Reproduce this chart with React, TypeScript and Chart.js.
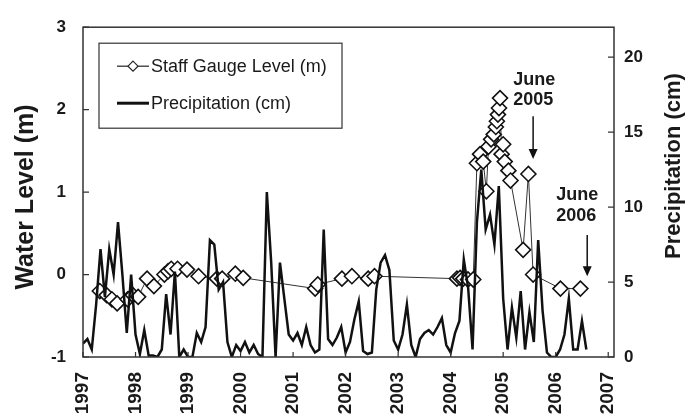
import React, { useEffect, useRef } from 'react';
import { Chart, registerables } from 'chart.js';

Chart.register(...registerables);

// ---- Data ----
const xTickYears = [1997, 1998, 1999, 2000, 2001, 2002, 2003, 2004, 2005, 2006, 2007];
const leftTicks = [-1, 0, 1, 2, 3];
const rightTicks = [0, 5, 10, 15, 20];

// Staff gauge level (m): decimal year, level
const gaugeYears = [
  1997.32, 1997.45, 1997.55, 1997.65, 1997.85, 1997.95, 1998.05, 1998.22, 1998.35, 1998.55,
  1998.62, 1998.68, 1998.80, 1998.98, 1999.20, 1999.55, 1999.65, 1999.90, 2000.05, 2001.42,
  2001.47, 2001.93, 2002.12, 2002.43, 2002.55, 2004.12, 2004.18, 2004.24, 2004.33, 2004.43,
  2004.50, 2004.56, 2004.62, 2004.68, 2004.72, 2004.77, 2004.82, 2004.86, 2004.88, 2004.90,
  2004.92, 2004.94, 2004.97, 2005.00, 2005.03, 2005.10, 2005.14, 2005.38, 2005.48, 2005.57,
  2006.09, 2006.47,
];
const gaugeLevels = [
  -0.20, -0.25, -0.30, -0.35, -0.30, -0.25, -0.27, -0.05, -0.14, 0.00,
  0.04, 0.07, 0.07, 0.06, -0.02, -0.05, -0.05, 0.01, -0.04, -0.17,
  -0.12, -0.05, -0.02, -0.05, -0.02, -0.05, -0.04, -0.05, -0.06, -0.06,
  1.35, 1.46, 1.37, 1.01, 1.55, 1.64, 1.70, 1.79, 1.86, 1.94,
  2.02, 2.14, 1.46, 1.58, 1.37, 1.26, 1.14, 0.30, 1.22, 0.00,
  -0.17, -0.17,
];

// Monthly precipitation (cm), starting January 1997
const precipStartYear = 1997;
const precipMonthly = [
  // 1997
  0.9, 1.2, 0.5, 3.5, 7.2, 4.0, 7.2, 5.5, 9.0, 5.5, 1.6, 5.5,
  // 1998
  1.5, 0.2, 1.8, 0.1, 0.1, 0.0, 0.5, 4.2, 1.5, 5.7, 0.0, 0.5,
  // 1999
  0.0, 0.0, 1.6, 1.0, 2.0, 7.8, 7.5, 4.5, 5.0, 1.0, 0.0, 0.8,
  // 2000
  0.4, 1.0, 0.3, 0.8, 0.2, 0.0, 11.0, 6.3, 0.0, 6.3, 3.9, 1.5,
  // 2001
  1.1, 1.6, 0.8, 2.0, 0.8, 0.3, 0.5, 8.5, 1.2, 0.8, 1.3, 2.0,
  // 2002
  0.3, 1.0, 2.5, 3.7, 0.4, 0.2, 0.3, 4.5, 6.3, 6.8, 5.8, 1.1,
  // 2003
  0.5, 1.5, 3.5, 0.8, 0.0, 1.2, 1.6, 1.8, 1.5, 2.0, 2.6, 0.8,
  // 2004
  0.3, 1.6, 2.4, 6.5, 4.6, 0.5, 9.0, 12.5, 8.5, 9.5, 7.5, 11.4,
  // 2005
  3.9, 0.5, 3.3, 1.3, 4.4, 0.5, 3.0, 1.0, 7.8, 3.1, 0.3, 0.0,
  // 2006
  0.0, 0.5, 1.5, 3.9, 0.5, 0.5, 2.4, 0.5,
];

const annotations = [
  { lines: ['June', '2005'], textYear: 2005.19, textLevels: [2.36, 2.12], arrowYear: 2005.57, arrowFrom: 1.92, arrowTo: 1.40 },
  { lines: ['June', '2006'], textYear: 2006.01, textLevels: [0.96, 0.71], arrowYear: 2006.6, arrowFrom: 0.48, arrowTo: -0.02 },
];

const FONT = '"Liberation Sans", Arial, Helvetica, sans-serif';
const INK = '#1a1a1a';

const overlayPlugin = {
  id: 'overlay',
  afterDraw(chart: any) {
    const { ctx, chartArea: a, scales } = chart;
    const sx = scales.x, sy = scales.y, sy2 = scales.y2;
    ctx.save();
    // frame
    ctx.strokeStyle = '#333';
    ctx.lineWidth = 1.5;
    ctx.strokeRect(a.left, a.top, a.right - a.left, a.bottom - a.top);
    // inward ticks
    ctx.lineWidth = 1.2;
    ctx.beginPath();
    leftTicks.forEach((v) => {
      const y = sy.getPixelForValue(v);
      ctx.moveTo(a.left, y); ctx.lineTo(a.left + 6, y);
    });
    rightTicks.forEach((v) => {
      const y = sy2.getPixelForValue(v);
      ctx.moveTo(a.right, y); ctx.lineTo(a.right - 6, y);
    });
    xTickYears.forEach((v) => {
      const x = sx.getPixelForValue(v);
      ctx.moveTo(x, a.bottom); ctx.lineTo(x, a.bottom - 5);
    });
    ctx.stroke();

    // axis titles
    ctx.fillStyle = INK;
    ctx.textAlign = 'center';
    ctx.textBaseline = 'middle';
    ctx.font = `bold 25px ${FONT}`;
    ctx.save();
    ctx.translate(26, 197);
    ctx.rotate(-Math.PI / 2);
    ctx.fillText('Water Level (m)', 0, 0);
    ctx.restore();
    ctx.font = `bold 22px ${FONT}`;
    ctx.save();
    ctx.translate(674, 166);
    ctx.rotate(-Math.PI / 2);
    ctx.fillText('Precipitation (cm)', 0, 0);
    ctx.restore();

    // legend
    const lx = a.left + 16, ly = a.top + 16, lw = 243, lh = 85;
    ctx.fillStyle = '#fff';
    ctx.fillRect(lx, ly, lw, lh);
    ctx.strokeStyle = '#333';
    ctx.lineWidth = 1.2;
    ctx.strokeRect(lx, ly, lw, lh);
    const r1 = ly + 23, r2 = ly + 60;
    const s0 = lx + 18, s1 = lx + 50;
    ctx.strokeStyle = '#222';
    ctx.lineWidth = 1.2;
    ctx.beginPath(); ctx.moveTo(s0, r1); ctx.lineTo(s1, r1); ctx.stroke();
    const cx = (s0 + s1) / 2, d = 5;
    ctx.beginPath();
    ctx.moveTo(cx, r1 - d); ctx.lineTo(cx + d, r1); ctx.lineTo(cx, r1 + d); ctx.lineTo(cx - d, r1); ctx.closePath();
    ctx.fillStyle = '#fff'; ctx.fill(); ctx.stroke();
    ctx.lineWidth = 3;
    ctx.strokeStyle = '#111';
    ctx.beginPath(); ctx.moveTo(s0, r2); ctx.lineTo(s1, r2); ctx.stroke();
    ctx.fillStyle = INK;
    ctx.textAlign = 'left';
    ctx.font = `18px ${FONT}`;
    ctx.fillText('Staff Gauge Level (m)', s1 + 2, r1 + 1);
    ctx.fillText('Precipitation (cm)', s1 + 2, r2 + 1);

    // annotations
    ctx.font = `bold 18px ${FONT}`;
    annotations.forEach((an) => {
      const tx = sx.getPixelForValue(an.textYear);
      an.lines.forEach((t, i) => ctx.fillText(t, tx, sy.getPixelForValue(an.textLevels[i])));
      const ax = sx.getPixelForValue(an.arrowYear);
      const y0 = sy.getPixelForValue(an.arrowFrom);
      const y1 = sy.getPixelForValue(an.arrowTo);
      ctx.strokeStyle = '#111';
      ctx.lineWidth = 1.5;
      ctx.beginPath(); ctx.moveTo(ax, y0); ctx.lineTo(ax, y1 - 8); ctx.stroke();
      ctx.beginPath();
      ctx.moveTo(ax - 4.5, y1 - 10); ctx.lineTo(ax + 4.5, y1 - 10); ctx.lineTo(ax, y1); ctx.closePath();
      ctx.fillStyle = '#111'; ctx.fill();
      ctx.fillStyle = INK;
    });
    ctx.restore();
  },
};

export default function App() {
  const ref = useRef<HTMLCanvasElement | null>(null);
  useEffect(() => {
    if (!ref.current) return;
    const precipData = precipMonthly.map((v, i) => ({ x: precipStartYear + i / 12, y: v }));
    const gaugeData = gaugeYears.map((yr, i) => ({ x: yr, y: gaugeLevels[i] }));
    const tickFont = { family: FONT, size: 17, weight: 'bold' as const };
    const chart = new Chart(ref.current, {
      type: 'line',
      data: {
        datasets: [
          {
            label: 'Precipitation (cm)',
            data: precipData,
            yAxisID: 'y2',
            borderColor: '#111',
            borderWidth: 2.5,
            pointRadius: 0,
            tension: 0,
            fill: false,
          },
          {
            label: 'Staff Gauge Level (m)',
            data: gaugeData,
            yAxisID: 'y',
            borderColor: '#333',
            borderWidth: 1,
            pointStyle: 'rectRot',
            pointRadius: 7.5,
            pointBorderWidth: 1.6,
            pointBackgroundColor: '#fff',
            pointBorderColor: '#111',
            tension: 0,
            fill: false,
          },
        ],
      },
      options: {
        responsive: false,
        animation: false,
        events: [],
        layout: { padding: { top: 21, left: 0, right: 0, bottom: 0 } },
        plugins: { legend: { display: false }, tooltip: { enabled: false } },
        scales: {
          x: {
            type: 'linear',
            min: 1997,
            max: 2007.11,
            afterBuildTicks: (s: any) => { s.ticks = xTickYears.map((v) => ({ value: v })); },
            afterFit: (s: any) => { s.height = 63; },
            grid: { display: false, drawTicks: false },
            border: { display: false },
            ticks: {
              autoSkip: false,
              minRotation: 90,
              maxRotation: 90,
              padding: 15,
              color: INK,
              font: { family: FONT, size: 19, weight: 'bold' },
              callback: (v: any) => String(v),
            },
          },
          y: {
            type: 'linear',
            position: 'left',
            min: -1,
            max: 3,
            afterBuildTicks: (s: any) => { s.ticks = leftTicks.map((v) => ({ value: v })); },
            afterFit: (s: any) => { s.width = 83; },
            grid: { display: false, drawTicks: false },
            border: { display: false },
            ticks: { padding: 17, color: INK, font: tickFont },
          },
          y2: {
            type: 'linear',
            position: 'right',
            min: 0,
            max: 22,
            afterBuildTicks: (s: any) => { s.ticks = rightTicks.map((v) => ({ value: v })); },
            afterFit: (s: any) => { s.width = 81; },
            grid: { display: false, drawTicks: false },
            border: { display: false },
            ticks: { padding: 10, color: INK, font: tickFont },
          },
        },
      },
      plugins: [overlayPlugin],
    });
    return () => chart.destroy();
  }, []);
  return (
    <div style={{ position: 'fixed', left: 0, top: 0, width: 695, height: 420, background: '#fff' }}>
      <canvas ref={ref} width={695} height={420} style={{ display: 'block' }} />
    </div>
  );
}
